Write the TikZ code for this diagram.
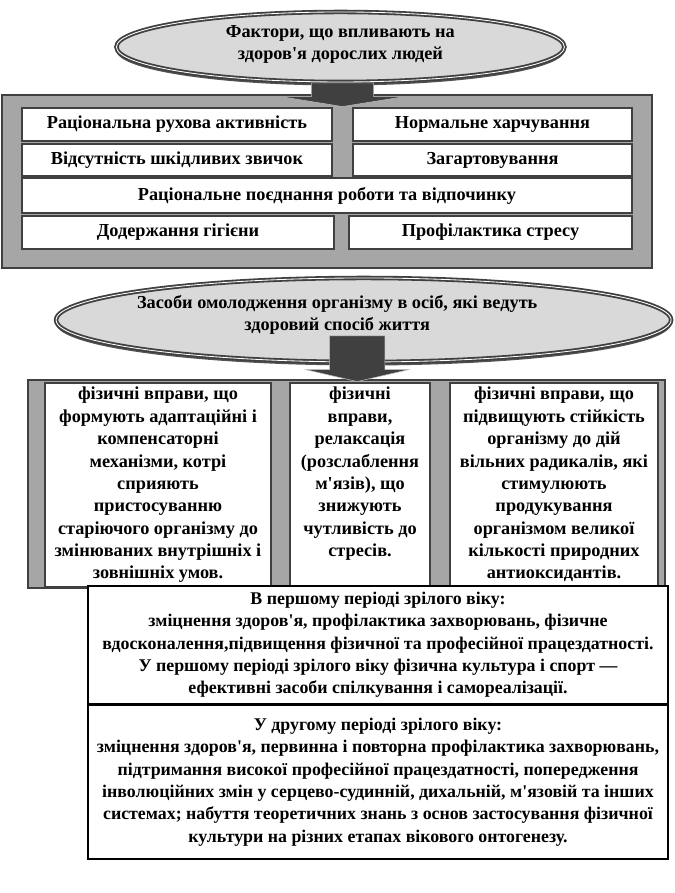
\documentclass[tikz,border=0pt]{standalone}
\usepackage{fontspec}
\setmainfont{Liberation Serif}[Ligatures=TeXOff, BoldFont={Liberation Serif Bold}]
\usepackage{tikz}
\usetikzlibrary{positioning, shapes.geometric, calc, shadows}
\definecolor{healthDark}{HTML}{404040}
\definecolor{healthGray}{HTML}{A6A6A6}
\definecolor{healthLight}{HTML}{D9D9D9}

\begin{document}
\begin{tikzpicture}[
  font=\fontsize{13}{15.9}\selectfont\bfseries,
  oval/.style={ellipse, fill=healthLight, draw=healthDark, line width=1.3pt, double=white, double distance=0.6pt,
    drop shadow={shadow xshift=0pt, shadow yshift=-2.5pt, fill=healthDark, opacity=0.9}},
  ovaltext/.style={align=center, inner sep=1pt},
  panel/.style={fill=healthGray, draw=healthDark, thick},
  factor/.style={draw=healthDark, line width=2pt, fill=white, inner sep=0pt, align=center},
  colbox/.style={draw=healthDark, line width=2pt, fill=white, minimum height=5.1cm},
  coltext/.style={anchor=north, align=center, inner sep=1pt},
  period/.style={draw=black, line width=1.5pt, fill=white, align=center, inner sep=0pt, minimum width=14.5cm,
    font=\fontsize{12.7}{15.9}\selectfont\bfseries},
  blockarrow/.style={fill=healthDark, draw=gray!55, thin}
]
  \useasboundingbox (0,0) rectangle (16.85,22.325);

  % Top oval
  \node[oval, minimum width=11.2cm, minimum height=1.75cm] (oval1) at (8.51,21.15) {};
  \node[ovaltext] (title1) at (8.51,21.21) {Фактори, що впливають на\\здоров'я дорослих людей};

  % Factors panel
  \filldraw[panel] (0.05,19.95) rectangle (16.3,15.625);
  \node[factor, minimum width=7.75cm, minimum height=0.825cm] (rowAL) at (4.425,19.2125) {Раціональна рухова активність};
  \node[factor, minimum width=6.975cm, minimum height=0.825cm] (rowAR) at (12.3125,19.2125) {Нормальне харчування};
  \node[factor, minimum width=7.75cm, minimum height=0.8cm] (rowBL) at (4.425,18.325) {Відсутність шкідливих звичок};
  \node[factor, minimum width=6.975cm, minimum height=0.8cm] (rowBR) at (12.3125,18.325) {Загартовування};
  \node[factor, minimum width=15.25cm, minimum height=0.875cm] (rowC) at (8.175,17.4375) {Раціональне поєднання роботи та відпочинку};
  \node[factor, minimum width=7.8cm, minimum height=0.825cm] (rowDL) at (4.45,16.5125) {Додержання гігієни};
  \node[factor, minimum width=7.075cm, minimum height=0.825cm] (rowDR) at (12.2625,16.5125) {Профілактика стресу};

  \coordinate (tipA) at ($(rowAL.north east)!0.5!(rowAR.north west)$);
  \filldraw[blockarrow] let \p1=(oval1.south), \p2=(tipA) in
    (\x2-0.78cm,\y1) -- (\x2+0.78cm,\y1) -- (\x2+0.78cm,\y2+0.25cm) -- (\x2+1.56cm,\y2+0.25cm)
    -- (\x2,\y2) -- (\x2-1.56cm,\y2+0.25cm) -- (\x2-0.78cm,\y2+0.25cm) -- cycle;

  % Second oval
  \node[oval, minimum width=15.375cm, minimum height=2.1cm] (oval2) at (9.09,14.325) {};
  \node[ovaltext] (title2) at (8.43,14.45) {Засоби омолодження організму в осіб, які ведуть\\здоровий спосіб життя};

  % Columns
  \filldraw[panel] (0.7,12.825) rectangle (16.625,7.625);
  \node[colbox, minimum width=5.65cm] (colA) at (3.95,10.2) {};
  \node[colbox, minimum width=3.5cm] (colB) at (9.0,10.2) {};
  \node[colbox, minimum width=5.2cm] (colC) at (13.85,10.2) {};

  \node[coltext] (textA) at ($(colA.north)+(0,-0.1)$) {фізичні вправи, що\\формують адаптаційні і\\компенсаторні\\механізми, котрі\\сприяють\\пристосуванню\\старіючого організму до\\змінюваних внутрішніх і\\зовнішніх умов.};
  \node[coltext] (textB) at ($(colB.north)+(0,-0.1)$) {фізичні\\вправи,\\релаксація\\(розслаблення\\м'язів), що\\знижують\\чутливість до\\стресів.};
  \node[coltext] (textC) at ($(colC.north)+(0,-0.1)$) {фізичні вправи, що\\підвищують стійкість\\організму до дій\\вільних радикалів, які\\стимулюють\\продукування\\організмом великої\\кількості природних\\антиоксидантів.};

  \coordinate (tipB) at ($(colB.north)+(-0.07,0)$);
  \filldraw[blockarrow] let \p1=($(oval2.south)+(0,0.675)$), \p2=(tipB) in
    (\x2-0.69cm,\y1) -- (\x2+0.69cm,\y1) -- (\x2+0.69cm,\y2+0.3cm) -- (\x2+1.29cm,\y2+0.3cm)
    -- (\x2,\y2) -- (\x2-1.29cm,\y2+0.3cm) -- (\x2-0.69cm,\y2+0.3cm) -- cycle;

  % Adult periods
  \node[period, minimum height=2.95cm] (first) at (9.45,6.2)
    {В першому періоді зрілого віку:\\зміцнення здоров'я, профілактика захворювань, фізичне\\вдосконалення,підвищення фізичної та професійної працездатності.\\У першому періоді зрілого віку фізична культура і спорт —\\ефективні засоби спілкування і самореалізації.};
  \node[period, minimum height=3.85cm] (second) at (9.45,2.775)
    {У другому періоді зрілого віку:\\зміцнення здоров'я, первинна і повторна профілактика захворювань,\\підтримання високої професійної працездатності, попередження\\інволюційних  змін у серцево-судинній, дихальній, м'язовій та інших\\системах; набуття теоретичних знань з основ застосування фізичної\\культури на різних етапах вікового онтогенезу.};
\end{tikzpicture}
\end{document}
